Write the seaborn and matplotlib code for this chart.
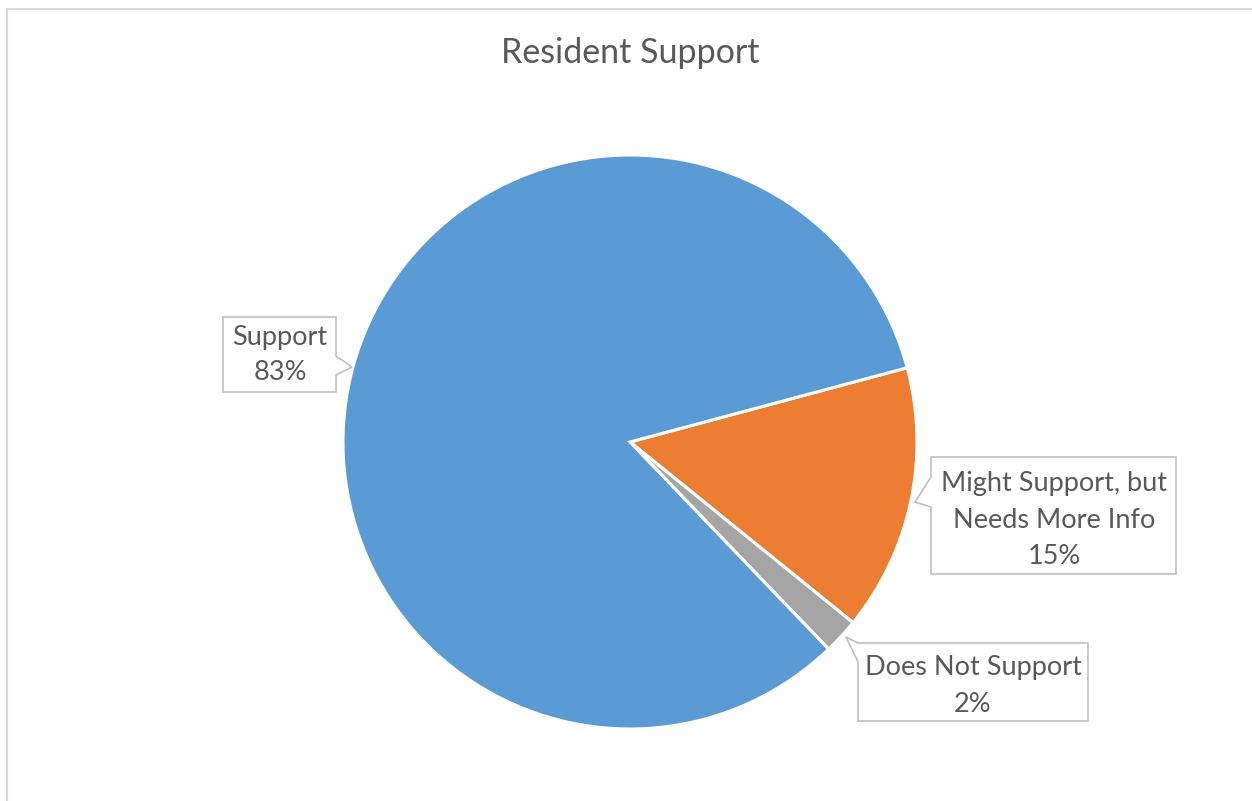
import matplotlib
matplotlib.use("Agg")
import matplotlib.pyplot as plt
from matplotlib.patches import Polygon, Rectangle
import numpy as np
import seaborn as sns

# ---- data ----
categories = ["Might Support, but\nNeeds More Info", "Does Not Support", "Support"]
values = [15, 2, 83]
colors = ["#ED7D31", "#A5A5A5", "#5B9BD5"]
title = "Resident Support"

sns.set_theme(style="white")
plt.rcParams["font.family"] = ["Lato", "DejaVu Sans"]

W, H = 1252, 801
fig = plt.figure(figsize=(W / 100, H / 100), dpi=100)
ax = fig.add_axes([0, 0, 1, 1])

def py(y):  # pixel y (from top) -> data y
    return H - y

cx, cy, r = 630, py(442), 287
palette = sns.color_palette(colors)
wedges, _ = ax.pie(values, colors=palette, startangle=15, counterclock=False,
                   center=(cx, cy), radius=r,
                   wedgeprops=dict(edgecolor="white", linewidth=2.2))
ax.set_xlim(0, W)
ax.set_ylim(0, H)
ax.set_aspect("auto")
ax.axis("off")

# chart border
ax.add_patch(Rectangle((7, -5), W, py(8.5) + 5, fill=False, edgecolor="#D9D9D9", linewidth=1.5))

txt = "#595959"
boxc = "#BFBFBF"
fs = 19.5

ax.text(cx, py(53), title, ha="center", va="center", fontsize=24.5, color=txt)

pcts = [f"{v}%" for v in values]

def callout(pts, text, x, y):
    poly = Polygon([(a, py(b)) for a, b in pts], closed=True, facecolor="white",
                   edgecolor=boxc, linewidth=1.2, zorder=5)
    ax.add_patch(poly)
    ax.text(x, py(y), text, ha="center", va="center", fontsize=fs, color=txt,
            linespacing=1.55, zorder=6)

# Support (left)
callout([(223, 317), (336, 317), (336, 356), (352, 367), (336, 375), (336, 392), (223, 392)],
        f"Support\n{pcts[2]}", 280, 355)
# Might support (right)
callout([(931, 457), (1176, 457), (1176, 574), (931, 574), (931, 507), (915, 502), (931, 477)],
        f"{categories[0]}\n{pcts[0]}", 1054, 520)
# Does not support (bottom right)
callout([(858, 643), (1088, 643), (1088, 721), (858, 721), (858, 662), (846, 637)],
        f"{categories[1]}\n{pcts[1]}", 973, 686)

fig.savefig("out.png", dpi=100)
